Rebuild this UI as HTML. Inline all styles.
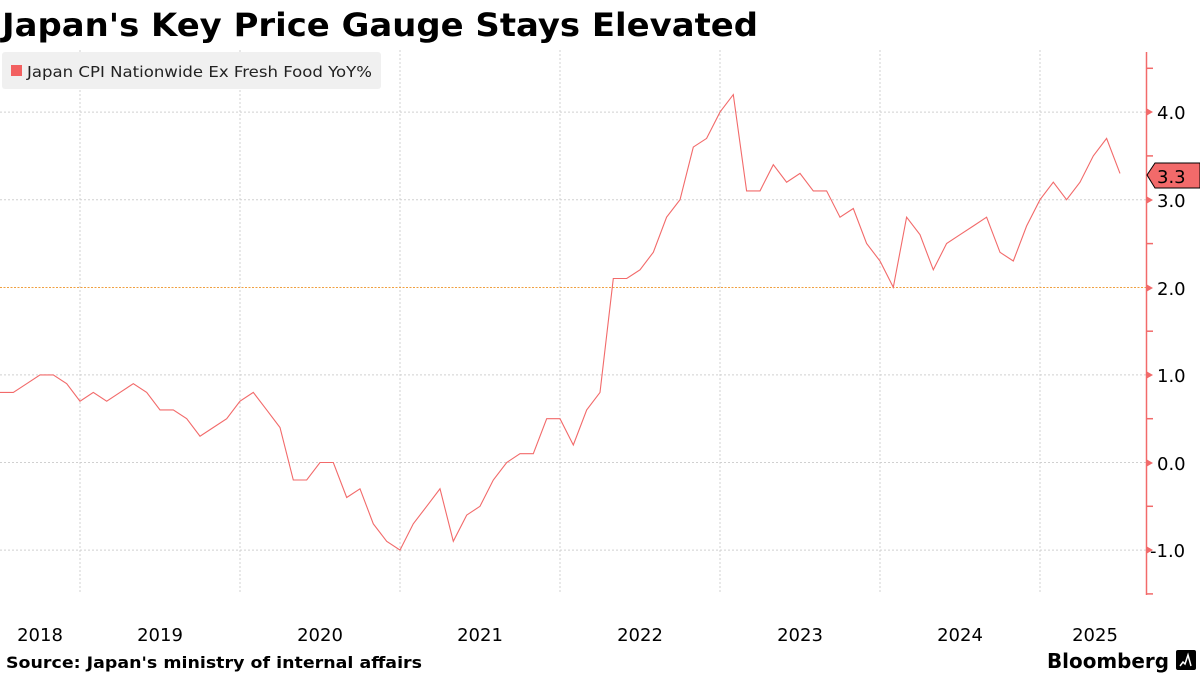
<!DOCTYPE html>
<html><head><meta charset="utf-8"><style>
body{margin:0;background:#fff;width:1200px;height:675px;overflow:hidden}
svg{display:block}
</style></head><body>
<svg id="s" width="1200" height="675" xmlns="http://www.w3.org/2000/svg" font-family="'DejaVu Sans','Liberation Sans',sans-serif">
<text x="2" y="36" font-size="32" font-weight="bold" fill="#000" textLength="756" lengthAdjust="spacingAndGlyphs">Japan's Key Price Gauge Stays Elevated</text>
<g stroke="#d0d0d0" stroke-width="1" stroke-dasharray="2,2">
<line x1="0" x2="1146" y1="112.1" y2="112.1"/><line x1="0" x2="1146" y1="199.7" y2="199.7"/>
<line x1="0" x2="1146" y1="374.9" y2="374.9"/><line x1="0" x2="1146" y1="462.5" y2="462.5"/>
<line x1="0" x2="1146" y1="550.1" y2="550.1"/>
<line x1="80" x2="80" y1="50" y2="594"/><line x1="240" x2="240" y1="50" y2="594"/>
<line x1="400" x2="400" y1="50" y2="594"/><line x1="560" x2="560" y1="50" y2="594"/>
<line x1="720" x2="720" y1="50" y2="594"/><line x1="880" x2="880" y1="50" y2="594"/>
<line x1="1040" x2="1040" y1="50" y2="594"/>
</g>
<line x1="0" x2="1146" y1="287.5" y2="287.5" stroke="#f0a040" stroke-width="1" stroke-dasharray="2,1.5"/>
<rect x="2" y="52" width="379" height="37" rx="3" fill="#f0f0f0"/>
<rect x="11" y="65" width="11" height="11" fill="#f26060"/>
<text x="27" y="77" font-size="15" fill="#222" textLength="345" lengthAdjust="spacingAndGlyphs">Japan CPI Nationwide Ex Fresh Food YoY%</text>
<polyline id="pl" fill="none" stroke="#f26a6a" stroke-width="1.1" points=""/>
<line x1="1146.5" x2="1146.5" y1="52" y2="595" stroke="#f26a6a" stroke-width="1.5"/>
<g stroke="#f26a6a" stroke-width="1.5">
<line x1="1146" x2="1153" y1="68.3" y2="68.3"/><line x1="1146" x2="1153" y1="155.9" y2="155.9"/>
<line x1="1146" x2="1153" y1="243.6" y2="243.6"/><line x1="1146" x2="1153" y1="331.2" y2="331.2"/>
<line x1="1146" x2="1153" y1="418.7" y2="418.7"/><line x1="1146" x2="1153" y1="506.3" y2="506.3"/>
<line x1="1146" x2="1153" y1="593.9" y2="593.9"/>
</g>
<g fill="#f26a6a">
<polygon points="1146,108 1153,112 1146,116"/><polygon points="1146,196 1153,200 1146,204"/>
<polygon points="1146,284 1153,288 1146,292"/><polygon points="1146,371 1153,375 1146,379"/>
<polygon points="1146,459 1153,463 1146,467"/><polygon points="1146,546 1153,550 1146,554"/>
</g>
<g font-size="18" fill="#000">
<text x="1157" y="119">4.0</text><text x="1157" y="207">3.0</text><text x="1157" y="295">2.0</text>
<text x="1157" y="382">1.0</text><text x="1157" y="470">0.0</text><text x="1150" y="557">-1.0</text>
</g>
<polygon points="1147,175 1155,163 1200,163 1200,188 1155,188" fill="#f26a6a" stroke="#000" stroke-width="1"/>
<text x="1157" y="183" font-size="18" fill="#000">3.3</text>
<g font-size="18" fill="#000" text-anchor="middle">
<text x="40" y="641">2018</text><text x="160" y="641">2019</text><text x="320" y="641">2020</text>
<text x="480" y="641">2021</text><text x="640" y="641">2022</text><text x="800" y="641">2023</text>
<text x="960" y="641">2024</text><text x="1095" y="641">2025</text>
</g>
<text x="6" y="668" font-size="16" font-weight="bold" fill="#000" textLength="416" lengthAdjust="spacingAndGlyphs">Source: Japan's ministry of internal affairs</text>
<text x="1047" y="668" font-size="20" font-weight="bold" fill="#000" textLength="122" lengthAdjust="spacingAndGlyphs">Bloomberg</text>
<rect x="1176" y="650" width="20" height="20" rx="2" fill="#000"/>
<path d="M1180,666 L1183,662 L1185,664 L1188,655 L1191,666" stroke="#fff" stroke-width="1.5" fill="none"/>
</svg>
<script>
var v=[0.8,0.8,0.9,1.0,1.0,0.9,0.7,
0.8,0.7,0.8,0.9,0.8,0.6,0.6,0.5,0.3,0.4,0.5,0.7,
0.8,0.6,0.4,-0.2,-0.2,0.0,0.0,-0.4,-0.3,-0.7,-0.9,-1.0,
-0.7,-0.5,-0.3,-0.9,-0.6,-0.5,-0.2,0.0,0.1,0.1,0.5,0.5,
0.2,0.6,0.8,2.1,2.1,2.2,2.4,2.8,3.0,3.6,3.7,4.0,
4.2,3.1,3.1,3.4,3.2,3.3,3.1,3.1,2.8,2.9,2.5,2.3,
2.0,2.8,2.6,2.2,2.5,2.6,2.7,2.8,2.4,2.3,2.7,3.0,
3.2,3.0,3.2,3.5,3.7,3.3];
var p=v.map(function(d,i){return (i*13.333).toFixed(1)+","+(462.5-87.6*d).toFixed(1)}).join(" ");
document.getElementById("pl").setAttribute("points",p);
</script>
</body></html>
